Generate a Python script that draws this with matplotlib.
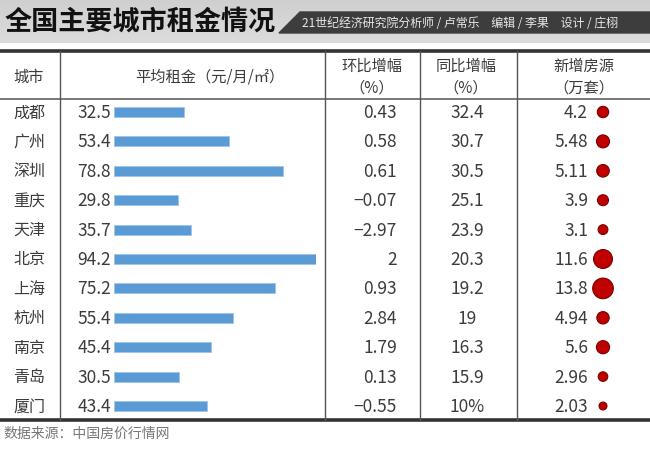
import matplotlib
matplotlib.use("Agg")
import matplotlib.pyplot as plt
from matplotlib.patches import Polygon
import numpy as np

plt.rcParams['font.family'] = ['Noto Sans CJK SC', 'DejaVu Sans']

# ---- data ----
cities = ["成都", "广州", "深圳", "重庆", "天津", "北京", "上海", "杭州", "南京", "青岛", "厦门"]
rent = [32.5, 53.4, 78.8, 29.8, 35.7, 94.2, 75.2, 55.4, 45.4, 30.5, 43.4]
mom = [0.43, 0.58, 0.61, -0.07, -2.97, 2, 0.93, 2.84, 1.79, 0.13, -0.55]
yoy_text = ["32.4", "30.7", "30.5", "25.1", "23.9", "20.3", "19.2", "19", "16.3", "15.9", "10%"]
new_supply = [4.2, 5.48, 5.11, 3.9, 3.1, 11.6, 13.8, 4.94, 5.6, 2.96, 2.03]

title = "全国主要城市租金情况"
credit = "21世纪经济研究院分析师 / 卢常乐　编辑 / 李果　设计 / 庄栩"
headers = ["城市", "平均租金（元/月/㎡）", "环比增幅\n（%）", "同比增幅\n（%）", "新增房源\n（万套）"]
source = "数据来源：中国房价行情网"

W, H = 650, 456
fig = plt.figure(figsize=(W / 100, H / 100), dpi=100)
ax = fig.add_axes([0, 0, 1, 1])

TXT = '#3c3c3c'
# title band
grad = np.linspace(0, 1, 50).reshape(-1, 1)
ax.imshow(grad, extent=(0, W, 44, 0),
          cmap=matplotlib.colors.LinearSegmentedColormap.from_list('g', ['#cfcfcf', '#dcdcdc']),
          aspect='auto', zorder=0)
ax.set_xlim(0, W)
ax.set_ylim(H, 0)
ax.axis('off')
ax.add_patch(Polygon([(279, 34), (300, 13), (W, 13), (W, 34)], closed=True, color='#3d3d3d', zorder=1))
ax.text(5, 22, title, fontsize=19.5, fontweight='bold', color='#111111', va='center', ha='left', zorder=2)
ax.text(302, 23.5, credit, fontsize=8.6, color='#e8e8e8', va='center', ha='left', zorder=2)

# table frame
top, hline, bottom = 52, 100, 421
ax.plot([0, W], [top, top], color='#333333', lw=2.6)
ax.plot([0, W], [bottom, bottom], color='#333333', lw=2.6)
ax.plot([0, W], [hline, hline], color='#555555', lw=1.1)
for xs in [60, 325, 420, 517]:
    ax.plot([xs, xs], [top, bottom], color='#555555', lw=1.0)

# headers
hx = [29, 210, 372, 466, 584]
for x, h in zip(hx, headers):
    ax.text(x, 77, h, fontsize=11, color=TXT, ha='center', va='center', linespacing=1.35)

# rows
row_y = [113 + i * 29.4 for i in range(len(cities))]
for i, y in enumerate(row_y):
    ax.text(29, y, cities[i], fontsize=11.5, color=TXT, ha='center', va='center')
    ax.text(111, y, f"{rent[i]:g}", fontsize=12.5, color=TXT, ha='right', va='center')
    ax.text(397, y, f"{mom[i]:g}".replace('-', '−'), fontsize=12.5, color=TXT, ha='right', va='center')
    ax.text(467, y, yoy_text[i], fontsize=12.5, color=TXT, ha='center', va='center')
    ax.text(588, y, f"{new_supply[i]:g}", fontsize=12.5, color=TXT, ha='right', va='center')

# bars: axes spanning pixels x 114..316, y in pixel rows
axb = fig.add_axes([114 / W, 0, (316 - 114) / W, 1])
axb.set_xlim(0, max(rent))
axb.set_ylim(H, 0)
axb.axis('off')
axb.patch.set_alpha(0)
axb.barh(row_y, rent, height=10, left=0, color='#5b9bd5', edgecolor='#9cc3e8', linewidth=0.6)

# dots
axd = fig.add_axes([0, 0, 1, 1])
axd.set_xlim(0, W)
axd.set_ylim(H, 0)
axd.axis('off')
axd.patch.set_alpha(0)
axd.scatter([603] * len(row_y), row_y, s=[16 * v for v in new_supply], color='#c00000',
            edgecolors='#7a0000', linewidths=0.8, zorder=3)

ax.text(3, 434, source, fontsize=10, color='#777777', ha='left', va='center')

fig.savefig('out.png', dpi=100)
